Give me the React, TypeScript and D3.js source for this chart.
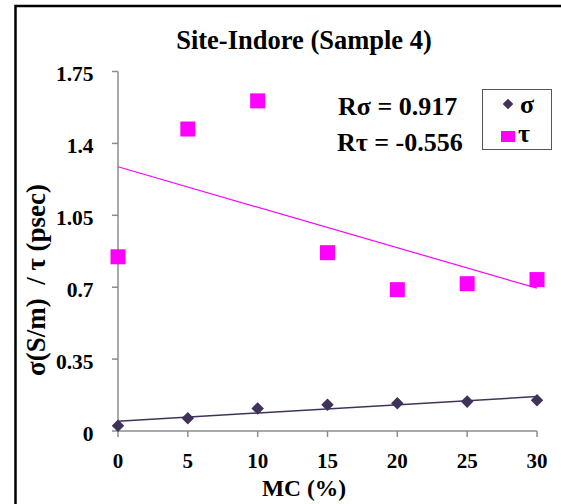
import React from "react";
import * as d3 from "d3";

const mcValues = [0, 5, 10, 15, 20, 25, 30];
const sigmaValues = [0.026, 0.062, 0.11, 0.128, 0.135, 0.143, 0.15];
const tauValues = [0.848, 1.47, 1.607, 0.868, 0.688, 0.717, 0.737];
const yTicks = [0, 0.35, 0.7, 1.05, 1.4, 1.75];
const xTicks = [0, 5, 10, 15, 20, 25, 30];
const titleText = "Site-Indore (Sample 4)";
const rSigmaText = "Rσ = 0.917";
const rTauText = "Rτ = -0.556";
const xLabel = "MC (%)";
const yLabel = "σ(S/m)  / τ (psec)";

const W = 561;
const H = 504;
const SIGMA_COLOR = "#403359";
const TAU_COLOR = "#FF00FF";
const AXIS_COLOR = "#8c8c8c";
const FONT = "'Liberation Serif', 'Times New Roman', serif";

function linreg(xs: number[], ys: number[]) {
  const n = xs.length;
  const mx = d3.mean(xs)!;
  const my = d3.mean(ys)!;
  let num = 0, den = 0;
  for (let i = 0; i < n; i++) {
    num += (xs[i] - mx) * (ys[i] - my);
    den += (xs[i] - mx) ** 2;
  }
  const slope = num / den;
  return { slope, intercept: my - slope * mx };
}

export default function App() {
  const x = d3.scaleLinear().domain([0, 30]).range([118, 537]);
  const y = d3.scaleLinear().domain([0, 1.75]).range([431, 71.5]);

  const sFit = linreg(mcValues, sigmaValues);
  const tFit = linreg(mcValues, tauValues);
  const fitPts = (f: { slope: number; intercept: number }) =>
    [0, 30].map((m) => [m, f.intercept + f.slope * m]);
  const lineGen = d3
    .line<number[]>()
    .x((d) => x(d[0]))
    .y((d) => y(d[1]));

  const diamond = d3.symbol().type(d3.symbolDiamond2).size(100)()!;
  const legendDiamond = d3.symbol().type(d3.symbolDiamond2).size(72)()!;

  return (
    <svg
      width={W}
      height={H}
      style={{ position: "absolute", left: 0, top: 0, background: "#fff" }}
      fontFamily={FONT}
    >
      <rect x={0} y={0} width={W} height={H} fill="#fff" />
      <rect x={15.5} y={6} width={W + 10} height={H + 10} fill="none" stroke="#000" strokeWidth={2.5} />

      <text x={304} y={48.5} textAnchor="middle" fontSize={26.5} fontWeight="bold">
        {titleText}
      </text>

      {/* axes */}
      <line x1={118} x2={118} y1={y(1.75)} y2={y(0)} stroke={AXIS_COLOR} strokeWidth={1.5} />
      <line x1={x(0)} x2={x(30)} y1={431} y2={431} stroke={AXIS_COLOR} strokeWidth={1.5} />
      {yTicks.map((t) => (
        <g key={"y" + t}>
          <line x1={112} x2={118} y1={y(t)} y2={y(t)} stroke={AXIS_COLOR} strokeWidth={1.5} />
          <text x={93.5} y={y(t) + 9.5} textAnchor="end" fontSize={21.5} fontWeight="bold">
            {String(t)}
          </text>
        </g>
      ))}
      {xTicks.map((t) => (
        <g key={"x" + t}>
          <line x1={x(t)} x2={x(t)} y1={431} y2={437} stroke={AXIS_COLOR} strokeWidth={1.5} />
          <text x={x(t)} y={468} textAnchor="middle" fontSize={21} fontWeight="bold">
            {String(t)}
          </text>
        </g>
      ))}

      <text x={304} y={496} textAnchor="middle" fontSize={23.5} fontWeight="bold">
        {xLabel}
      </text>
      <text
        transform={`translate(36,280) rotate(-90)`}
        textAnchor="middle"
        dy="0.35em"
        fontSize={27}
        fontWeight="bold"
        style={{ whiteSpace: "pre" }}
      >
        {yLabel}
      </text>

      {/* trend lines */}
      <path d={lineGen(fitPts(tFit))!} stroke={TAU_COLOR} strokeWidth={1.2} fill="none" />
      <path d={lineGen(fitPts(sFit))!} stroke={SIGMA_COLOR} strokeWidth={1.5} fill="none" />

      {/* points */}
      {mcValues.map((m, i) => (
        <rect
          key={"t" + m}
          x={x(m) - 7.5}
          y={y(tauValues[i]) - 7.5}
          width={15}
          height={15}
          fill={TAU_COLOR}
        />
      ))}
      {mcValues.map((m, i) => (
        <path
          key={"s" + m}
          d={diamond}
          transform={`translate(${x(m)},${y(sigmaValues[i])})`}
          fill={SIGMA_COLOR}
        />
      ))}

      {/* R annotations */}
      <text x={338} y={115} fontSize={26} fontWeight="bold">
        {rSigmaText}
      </text>
      <text x={337} y={151} fontSize={26} fontWeight="bold">
        {rTauText}
      </text>

      {/* legend */}
      <rect x={482.5} y={89.5} width={69} height={60} fill="#fff" stroke="#555" strokeWidth={1} />
      <path d={legendDiamond} transform="translate(508,104)" fill={SIGMA_COLOR} />
      <text x={520} y={113} fontSize={26} fontWeight="bold">σ</text>
      <rect x={501} y={131} width={14} height={11} fill={TAU_COLOR} />
      <text x={518} y={142} fontSize={26} fontWeight="bold">τ</text>
    </svg>
  );
}
